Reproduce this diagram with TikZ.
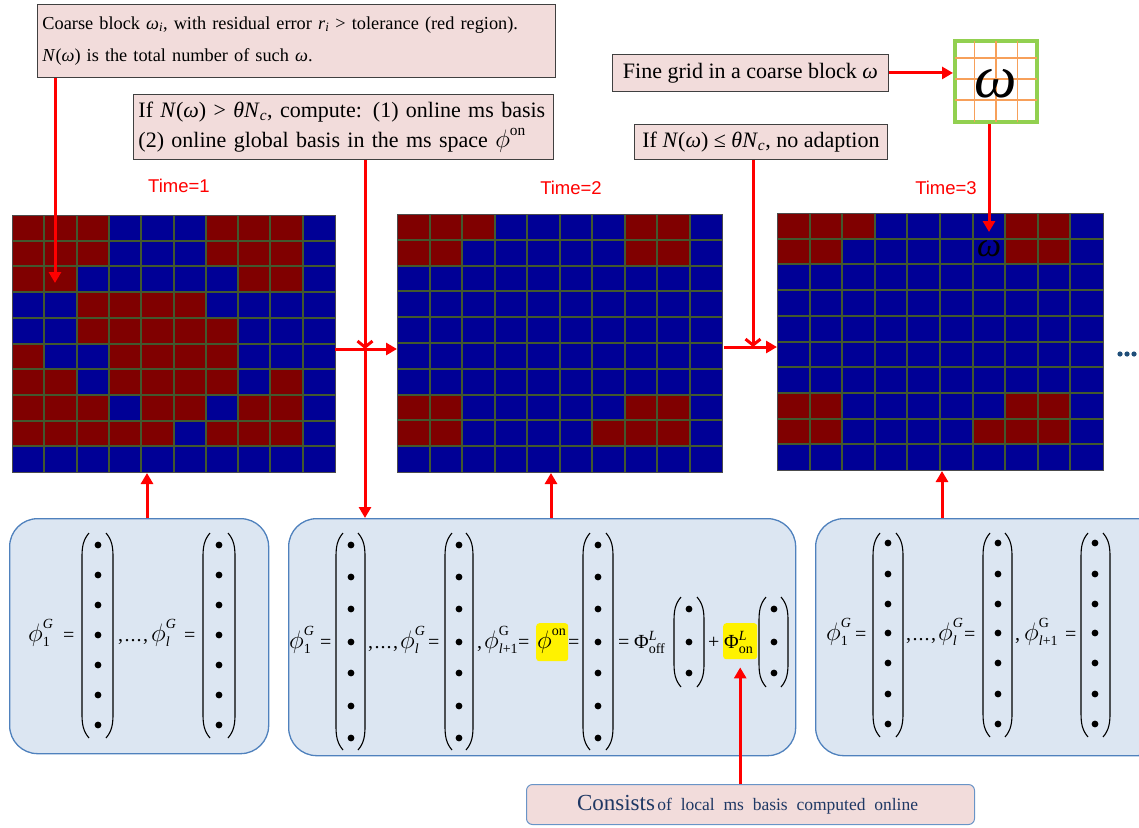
\documentclass[tikz,border=0pt]{standalone}
\usepackage{fontspec}
\setmainfont{Liberation Serif}
\newfontfamily\sansf{Liberation Sans}
\usepackage{amsmath}
\usepackage{graphicx}
\usetikzlibrary{arrows.meta}

\definecolor{gR}{RGB}{128,0,0}
\definecolor{gB}{RGB}{0,0,150}
\definecolor{glinec}{RGB}{66,88,46}
\definecolor{pinkbox}{RGB}{242,220,219}
\definecolor{bluebox}{RGB}{220,230,242}
\definecolor{blueedge}{RGB}{79,129,189}
\definecolor{greenedge}{RGB}{146,208,80}
\definecolor{orangeline}{RGB}{247,160,90}
\definecolor{navytext}{RGB}{31,56,100}
\definecolor{dotblue}{RGB}{31,78,121}

\newcommand{\mi}[1]{\textit{#1}}
\newcommand{\bigphi}{\scalebox{1.22}{$\phi$}}
\newcommand{\phsb}[2]{$\bigphi^{\text{#1}}_{\text{#2}}$}
\newcommand{\lsub}[1]{$_{\text{#1}}$}
\newcommand{\lsup}[1]{$^{\text{#1}}$}
\newcommand{\dotsep}{,\kern1.5pt.\kern1pt.\kern1pt.\kern1.5pt,}

\def\patA{{R,R,R,B,B,B,R,R,R,B},{R,R,R,B,B,B,R,R,R,B},{R,R,B,B,B,B,B,R,R,B},{B,B,R,R,R,R,B,B,B,B},{B,B,R,R,R,R,R,B,B,B},{R,B,B,R,R,R,R,B,B,B},{R,R,B,R,R,R,R,B,R,B},{R,R,R,B,R,R,B,R,R,B},{R,R,R,R,R,B,R,R,R,B},{B,B,B,B,B,B,B,B,B,B}}
\def\patB{{R,R,R,B,B,B,B,R,R,B},{R,R,B,B,B,B,B,R,R,B},{B,B,B,B,B,B,B,B,B,B},{B,B,B,B,B,B,B,B,B,B},{B,B,B,B,B,B,B,B,B,B},{B,B,B,B,B,B,B,B,B,B},{B,B,B,B,B,B,B,B,B,B},{R,R,B,B,B,B,B,R,R,B},{R,R,B,B,B,B,R,R,R,B},{B,B,B,B,B,B,B,B,B,B}}

\newcommand{\cgrid}[6]{%
  \node[inner sep=0pt, minimum width=#4pt, minimum height=#5pt, anchor=north west] (#1) at (#2,#3) {};
  \pgfmathsetmacro{\cellw}{#4/10}
  \pgfmathsetmacro{\cellh}{#5/10}
  \foreach \row [count=\ri from 0] in #6 {
    \foreach \cc [count=\ki from 0] in \row {
      \fill[fill=g\cc] ({#2+\ki*\cellw},{#3+\ri*\cellh}) rectangle ++(\cellw,\cellh);
    }
  }
  \foreach \i in {1,...,9} {
    \draw[gridln] ({#2+\i*\cellw},#3) -- ({#2+\i*\cellw},{#3+#5});
    \draw[gridln] (#2,{#3+\i*\cellh}) -- ({#2+#4},{#3+\i*\cellh});
  }
  \draw[gridbd] (#2,#3) rectangle ++(#4,#5);
}

\newcommand{\bvec}[6]{%
  \draw[paren] ({#1+7},#3) .. controls ({#1+1},{#3+7}) and (#1,{#3+14}) .. (#1,{#3+24}) -- (#1,{#4-24}) .. controls (#1,{#4-14}) and ({#1+1},{#4-7}) .. ({#1+7},#4);
  \draw[paren] ({#2-7},#3) .. controls ({#2-1},{#3+7}) and (#2,{#3+14}) .. (#2,{#3+24}) -- (#2,{#4-24}) .. controls (#2,{#4-14}) and ({#2-1},{#4-7}) .. ({#2-7},#4);
  \foreach \yy in {#6} {\fill (#5,\yy) circle[radius=3.4pt];}
}

\tikzset{
  gridln/.style={draw=glinec, line width=2pt},
  gridbd/.style={draw=black!70, line width=1pt},
  tbox/.style={draw=black!75, fill=pinkbox, line width=0.9pt, inner xsep=5pt, inner ysep=0pt, anchor=north west, align=left},
  bbox/.style={draw=blueedge, fill=bluebox, line width=1.3pt, rounded corners=28pt, anchor=north west, inner sep=0pt},
  hlbox/.style={fill=yellow, rounded corners=3pt, anchor=north west, inner sep=0pt},
  ft/.style={anchor=base west, inner sep=0pt, font=\fontsize{20}{24}\selectfont},
  paren/.style={draw=black, line width=1.1pt},
  rarrow/.style={draw=red, line width=3pt, -{Triangle[length=11pt,width=12pt]}},
  varrow/.style={draw=red, line width=3pt, -{Straight Barb[length=6pt,width=15pt]}},
  timel/.style={text=red, font=\sansf\fontsize{18.5}{19}\selectfont, inner sep=0pt},
}

\begin{document}
\begin{tikzpicture}[x=1pt,y=-1pt]
\useasboundingbox (0,0) rectangle (1139,827);
\clip (0,0) rectangle (1139,827);

% grids
\cgrid{g1}{12}{215}{323}{257}{\patA}
\cgrid{g2}{397}{214}{325}{258}{\patB}
\cgrid{g3}{777}{213}{326}{257}{\patB}

% time labels
\node[timel] (tm1) at (179,186) {Time=1};
\node[timel] (tm2) at (571,188) {Time=2};
\node[timel] (tm3) at (946,188) {Time=3};

% top text boxes
\node[tbox, text width=508pt, minimum height=73pt, font=\fontsize{18.3}{32}\selectfont] (t1) at (37,4)
  {\mbox{Coarse block \mi{ω}\lsub{\mi{i}}, with residual error \mi{r}\lsub{\mi{i}} > tolerance (red region).}\\
   \mbox{\mi{N}(\mi{ω}) is the total number of such \mi{ω}.}};
\node[tbox, text width=410pt, minimum height=65pt, font=\fontsize{22}{30}\selectfont] (t2) at (133,94)
  {\mbox{If \mi{N}(\mi{ω}) > \mi{θN}\lsub{\mi{c}}, compute: (1) online ms basis}\\
   \mbox{(2) online global basis in the ms space $\bigphi^{\text{on}}$}};
\node[tbox, minimum width=276pt, minimum height=37pt, font=\fontsize{22}{24}\selectfont, align=center] (t3) at (612,54)
  {Fine grid in a coarse block \mi{ω}};
\node[tbox, minimum width=253pt, minimum height=35pt, font=\fontsize{22}{24}\selectfont, align=center] (t4) at (634,124)
  {If \mi{N}(\mi{ω}) ≤ \mi{θN}\lsub{\mi{c}}, no adaption};

% omega fine grid
\node[draw=greenedge, line width=4pt, minimum width=82pt, minimum height=81pt, inner sep=0pt, anchor=center] (om) at (996,81.5) {};
\foreach \xx in {974.5,996,1017.5} {\draw[orangeline, line width=1.2pt] (\xx,41) -- (\xx,122);}
\foreach \yy in {58,79,100} {\draw[orangeline, line width=1.2pt] (955,\yy) -- (1037,\yy);}
\node[font=\fontsize{60}{60}\selectfont\itshape, inner sep=0pt] (omt) at (996,84) {ω};
\node[font=\fontsize{34}{34}\selectfont\itshape, inner sep=0pt] (omg) at (989,249) {ω};

% continuation dots
\foreach \xx in {1120,1127,1134} {\fill[dotblue] (\xx,354) circle[radius=2.6pt];}

% bottom boxes
\node[bbox, minimum width=259pt, minimum height=235pt] (b1) at (9,518) {};
\node[bbox, minimum width=507pt, minimum height=237pt] (b2) at (288,518) {};
\node[bbox, minimum width=350pt, minimum height=237pt] (b3) at (815,518) {};

% left box content
\node[ft] (l1) at (28,641) {\phsb{\mi{G}}{1}};
\node[ft] (l2) at (63,641) {=};
\bvec{82}{113}{533}{738}{98}{545,575,605,635,665,695,725}
\node[ft] (l3) at (118,641) {\dotsep};
\node[ft] (l3b) at (151,641) {\phsb{\mi{G}}{\mi{l}}};
\node[ft] (l4) at (184,641) {=};
\bvec{203}{235}{533}{738}{219}{545,575,605,635,665,695,725}

% middle box content
\node[ft] (m1) at (289,648) {\phsb{\mi{G}}{1}};
\node[ft] (m2) at (320,648) {=};
\bvec{336}{365}{533}{750}{351}{545,577,609,642,673,706,738}
\node[ft] (m3) at (368,648) {\dotsep};
\node[ft] (m3b) at (400,648) {\phsb{\mi{G}}{\mi{l}}};
\node[ft] (m4) at (428,648) {=};
\bvec{445}{473}{533}{750}{459}{545,577,609,642,673,706,738}
\node[ft] (m5) at (477,648) {,\kern2pt\phsb{G}{\mi{l}+1}};
\node[ft] (m6) at (518,648) {=};
\node[hlbox, minimum width=32pt, minimum height=38pt] (yon1) at (536,623) {};
\node[ft] (m7) at (537,648) {$\bigphi^{\text{on}}$};
\node[ft] (m8) at (568,648) {=};
\bvec{583}{613}{533}{750}{598}{545,577,609,642,673,706,738}
\node[ft] (m9) at (618,648) {=};
\node[ft] (m10) at (634,648) {Φ$^{\text{\mi{L}}}_{\text{off}}$};
\bvec{674}{704}{597}{687}{689}{609,642,673}
\node[ft] (m11) at (708,648) {+};
\node[hlbox, minimum width=34pt, minimum height=36pt] (yon2) at (723,623) {};
\node[ft] (m12) at (724,648) {Φ$^{\text{\mi{L}}}_{\text{on}}$};
\bvec{759}{788}{597}{687}{774}{609,642,673}

% right box content
\node[ft] (r1) at (826,640) {\phsb{\mi{G}}{1}};
\node[ft] (r2) at (855,640) {=};
\bvec{873}{903}{533}{737}{888}{543,574,604,633,663,694,724}
\node[ft] (r3) at (906,640) {\dotsep};
\node[ft] (r3b) at (938,640) {\phsb{\mi{G}}{\mi{l}}};
\node[ft] (r4) at (964,640) {=};
\bvec{983}{1012}{533}{737}{998}{543,574,604,633,663,694,724}
\node[ft] (r5) at (1015,640) {,\kern4pt\phsb{G}{\mi{l}+1}};
\node[ft] (r6) at (1065,640) {=};
\bvec{1081}{1110}{533}{737}{1095}{543,574,604,633,663,694,724}

% consists box
\node[draw=blueedge!85, fill=pinkbox, rounded corners=6pt, line width=1pt, minimum width=448pt, minimum height=40pt, anchor=north west, inner sep=0pt] (cons) at (526,784) {};
\node[text=navytext, inner sep=0pt] (constxt) at ([xshift=-3pt]cons.center)
  {{\fontsize{23}{24}\selectfont Consists}\ {\fontsize{17.5}{20}\selectfont of\ \ local\ \ ms\ \ basis\ \ computed\ \ online}};

% coordinates for connectors
\coordinate (c1) at (55,283);
\coordinate (j1) at (365,349);
\coordinate (j2) at (753,347);
\coordinate (c3) at (989,232);
\coordinate (a1) at (147,473);
\coordinate (a2) at (551,473);
\coordinate (a3) at (942,471);

% connectors
\draw[rarrow] (t1.south -| c1) -- (c1);
\draw[varrow] (t2.south -| j1) -- (j1);
\draw[rarrow] (j1) -- (b2.north -| j1);
\draw[rarrow] (g1.east |- j1) -- (g2.west |- j1);
\draw[varrow] (t4.south -| j2) -- (j2);
\draw[rarrow] ([xshift=2pt]g2.east |- j2) -- (g3.west |- j2);
\draw[rarrow] (t3.east) -- (om.west |- t3.east);
\draw[rarrow] (om.south -| c3) -- (c3);
\draw[rarrow] (b1.north -| a1) -- (a1);
\draw[rarrow] (b2.north -| a2) -- (a2);
\draw[rarrow] (b3.north -| a3) -- (a3);
\draw[rarrow] (cons.north -| yon2.south) -- ([yshift=-8pt]yon2.south);
\end{tikzpicture}
\end{document}
